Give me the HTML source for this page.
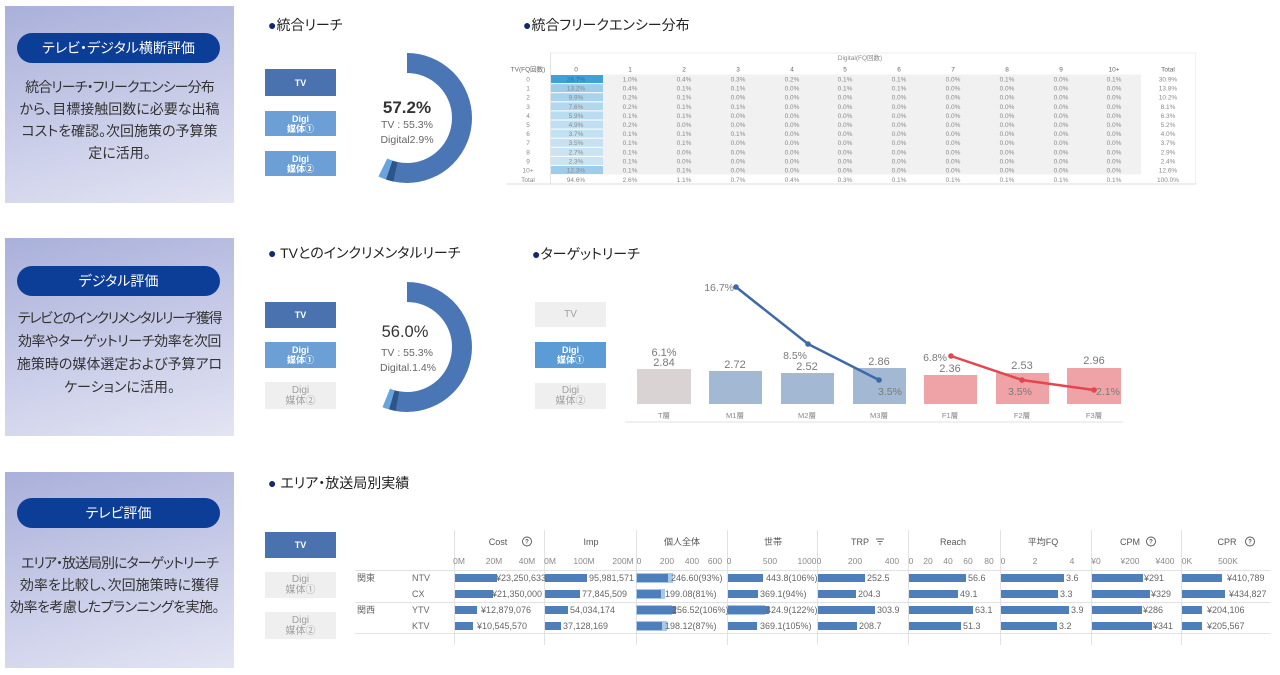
<!DOCTYPE html>
<html><head><meta charset="utf-8">
<style>
*{margin:0;padding:0;box-sizing:border-box}
body{width:1280px;height:675px;background:#fff;position:relative;overflow:hidden;font-family:"Liberation Sans","Noto Sans CJK JP",sans-serif;}
.panel{position:absolute;left:5px;width:229px;background:linear-gradient(165deg,#a9b0da 0%,#c4c8e6 45%,#e3e5f3 100%);}
.pill{position:absolute;left:12px;width:203px;height:30px;border-radius:15px;background:#0c3e98;color:#fff;font-size:14px;line-height:30px;text-align:center;font-feature-settings:"palt";white-space:nowrap;}
.ptext{position:absolute;left:0;width:229px;text-align:center;color:#333;font-size:14px;font-feature-settings:"palt";white-space:nowrap;}
.ptext span{display:block;position:relative;}
.title{position:absolute;font-size:14px;line-height:16px;color:#222;white-space:nowrap;font-feature-settings:"palt";}
.title b{color:#14286e;font-weight:normal;}
.btn{position:absolute;width:71px;color:#fff;font-weight:bold;font-size:9px;text-align:center;display:flex;align-items:center;justify-content:center;line-height:10px;font-feature-settings:"palt";}
.on1{background:#4a72ae;}
.on2{background:#6c9fd6;}
.off{background:#efefef;color:#a0a0a0;font-weight:normal;font-size:10px;line-height:11px;}
svg{position:absolute;left:0;top:0;}
</style></head><body>

<div class="panel" style="top:6px;height:197px;">
  <div class="pill" style="top:27px;">テレビ・デジタル横断評価</div>
  <div class="ptext" style="top:70px;line-height:22px;"><span style="letter-spacing:-0.9px">統合リーチ・フリークエンシー分布</span><span>から、目標接触回数に必要な出稿</span><span>コストを確認。次回施策の予算策</span><span>定に活用。</span></div>
</div>
<div class="panel" style="top:238px;height:198px;">
  <div class="pill" style="top:28px;">デジタル評価</div>
  <div class="ptext" style="top:69px;line-height:23px;"><span style="letter-spacing:-1.4px">テレビとのインクリメンタルリーチ獲得</span><span style="letter-spacing:-0.4px">効率やターゲットリーチ効率を次回</span><span>施策時の媒体選定および予算アロ</span><span>ケーションに活用。</span></div>
</div>
<div class="panel" style="top:472px;height:196px;">
  <div class="pill" style="top:26px;">テレビ評価</div>
  <div class="ptext" style="top:80px;line-height:22px;"><span style="letter-spacing:-1px">エリア・放送局別にターゲットリーチ</span><span>効率を比較し、次回施策時に獲得</span><span style="letter-spacing:-0.5px;left:-5px;">効率を考慮したプランニングを実施。</span></div>
</div>

<div class="title" style="left:268px;top:17px;"><b>●</b>統合リーチ</div>
<div class="title" style="left:523px;top:17px;"><b>●</b>統合フリークエンシー分布</div>
<div class="title" style="left:268px;top:245px;"><b>●</b> TVとのインクリメンタルリーチ</div>
<div class="title" style="left:532px;top:246px;"><b>●</b>ターゲットリーチ</div>
<div class="title" style="left:268px;top:475px;"><b>●</b> エリア・放送局別実績</div>

<div class="btn on1" style="left:265px;top:69px;height:27px;">TV</div>
<div class="btn on2" style="left:265px;top:111px;height:25px;">Digi<br>媒体①</div>
<div class="btn on2" style="left:265px;top:151px;height:25px;">Digi<br>媒体②</div>

<div class="btn on1" style="left:265px;top:302px;height:26px;">TV</div>
<div class="btn on2" style="left:265px;top:342px;height:26px;">Digi<br>媒体①</div>
<div class="btn off" style="left:265px;top:382px;height:27px;">Digi<br>媒体②</div>

<div class="btn off" style="left:535px;top:302px;height:25px;">TV</div>
<div class="btn on2" style="left:535px;top:342px;height:26px;background:#5b9bd6;">Digi<br>媒体①</div>
<div class="btn off" style="left:535px;top:383px;height:26px;">Digi<br>媒体②</div>

<div class="btn on1" style="left:265px;top:532px;height:26px;">TV</div>
<div class="btn off" style="left:265px;top:572px;height:26px;">Digi<br>媒体①</div>
<div class="btn off" style="left:265px;top:612px;height:27px;">Digi<br>媒体②</div>

<svg width="1280" height="675" viewBox="0 0 1280 675" xmlns="http://www.w3.org/2000/svg" font-family="Liberation Sans, Noto Sans CJK JP, sans-serif">
  <!-- Donut 1 -->
  <circle cx="407" cy="118" r="55" fill="none" stroke="#4a76b5" stroke-width="20" stroke-dasharray="184.3 400" transform="rotate(-90 407 118)"/>
  <circle cx="407" cy="118" r="55" fill="none" stroke="#2c5689" stroke-width="20" stroke-dasharray="6.8 400" transform="rotate(102 407 118)"/>
  <circle cx="407" cy="118" r="55" fill="none" stroke="#6aa4dc" stroke-width="20" stroke-dasharray="6.8 400" transform="rotate(109 407 118)"/>
  <text x="407" y="113" text-anchor="middle" font-size="17" font-weight="bold" fill="#333">57.2%</text>
  <text x="407" y="128" text-anchor="middle" font-size="10.5" fill="#666">TV : 55.3%</text>
  <text x="407" y="143" text-anchor="middle" font-size="10.5" fill="#666">Digital2.9%</text>

  <!-- Donut 2 -->
  <circle cx="407" cy="347" r="55" fill="none" stroke="#4a76b5" stroke-width="20" stroke-dasharray="182.4 400" transform="rotate(-90 407 347)"/>
  <circle cx="407" cy="347" r="55" fill="none" stroke="#2c5689" stroke-width="20" stroke-dasharray="6 400" transform="rotate(100 407 347)"/>
  <circle cx="407" cy="347" r="55" fill="none" stroke="#6aa4dc" stroke-width="20" stroke-dasharray="6 400" transform="rotate(106 407 347)"/>
  <text x="405" y="337" text-anchor="middle" font-size="16.5" fill="#333">56.0%</text>
  <text x="407" y="356" text-anchor="middle" font-size="10.5" fill="#666">TV : 55.3%</text>
  <text x="408" y="371" text-anchor="middle" font-size="10.5" fill="#666">Digital.1.4%</text>

  <!-- Frequency table -->
  <line x1="550" y1="53" x2="1196" y2="53" stroke="#eee" stroke-width="1"/>
  <line x1="550.5" y1="53" x2="550.5" y2="184" stroke="#e4e4e4" stroke-width="1"/>
  <line x1="1195.5" y1="53" x2="1195.5" y2="184" stroke="#eee" stroke-width="1"/>
  <line x1="507" y1="184" x2="1196" y2="184" stroke="#ddd" stroke-width="1"/>
  <rect x="603" y="74.5" width="538" height="100" fill="#f1f1f1"/>
  <g>
    <rect x="551" y="75" width="52" height="8.1" fill="#3fa1d8"/>
    <rect x="551" y="84.1" width="52" height="8.1" fill="#9ccdea"/>
    <rect x="551" y="93.2" width="52" height="8.1" fill="#a9d3ec"/>
    <rect x="551" y="102.3" width="52" height="8.1" fill="#b3d8ee"/>
    <rect x="551" y="111.4" width="52" height="8.1" fill="#badcf0"/>
    <rect x="551" y="120.5" width="52" height="8.1" fill="#bfdef1"/>
    <rect x="551" y="129.6" width="52" height="8.1" fill="#c4e1f2"/>
    <rect x="551" y="138.7" width="52" height="8.1" fill="#c5e1f2"/>
    <rect x="551" y="147.8" width="52" height="8.1" fill="#c9e3f3"/>
    <rect x="551" y="156.9" width="52" height="8.1" fill="#cbe4f3"/>
    <rect x="551" y="166" width="52" height="8.1" fill="#9dcdea"/>
  </g>
  <g font-size="6.5" fill="#8a8a8a" text-anchor="middle">
    <text x="860" y="60">Digital(FQ回数)</text>
    <text y="71.5" fill="#666"><tspan x="528">TV(FQ回数)</tspan><tspan x="576">0</tspan><tspan x="630">1</tspan><tspan x="684">2</tspan><tspan x="738">3</tspan><tspan x="792">4</tspan><tspan x="845">5</tspan><tspan x="899">6</tspan><tspan x="953">7</tspan><tspan x="1007">8</tspan><tspan x="1061">9</tspan><tspan x="1114">10+</tspan><tspan x="1168">Total</tspan></text>
    <text y="81.5"><tspan x="528">0</tspan><tspan x="576" fill="#2a70a8">28.7%</tspan><tspan x="630">1.0%</tspan><tspan x="684">0.4%</tspan><tspan x="738">0.3%</tspan><tspan x="792">0.2%</tspan><tspan x="845">0.1%</tspan><tspan x="899">0.1%</tspan><tspan x="953">0.0%</tspan><tspan x="1007">0.1%</tspan><tspan x="1061">0.0%</tspan><tspan x="1114">0.1%</tspan><tspan x="1168">30.9%</tspan></text>
    <text y="90.6"><tspan x="528">1</tspan><tspan x="576">13.2%</tspan><tspan x="630">0.4%</tspan><tspan x="684">0.1%</tspan><tspan x="738">0.1%</tspan><tspan x="792">0.0%</tspan><tspan x="845">0.1%</tspan><tspan x="899">0.1%</tspan><tspan x="953">0.0%</tspan><tspan x="1007">0.0%</tspan><tspan x="1061">0.0%</tspan><tspan x="1114">0.0%</tspan><tspan x="1168">13.8%</tspan></text>
    <text y="99.7"><tspan x="528">2</tspan><tspan x="576">9.9%</tspan><tspan x="630">0.2%</tspan><tspan x="684">0.1%</tspan><tspan x="738">0.0%</tspan><tspan x="792">0.0%</tspan><tspan x="845">0.0%</tspan><tspan x="899">0.0%</tspan><tspan x="953">0.0%</tspan><tspan x="1007">0.0%</tspan><tspan x="1061">0.0%</tspan><tspan x="1114">0.0%</tspan><tspan x="1168">10.2%</tspan></text>
    <text y="108.8"><tspan x="528">3</tspan><tspan x="576">7.6%</tspan><tspan x="630">0.2%</tspan><tspan x="684">0.1%</tspan><tspan x="738">0.1%</tspan><tspan x="792">0.0%</tspan><tspan x="845">0.0%</tspan><tspan x="899">0.0%</tspan><tspan x="953">0.0%</tspan><tspan x="1007">0.0%</tspan><tspan x="1061">0.0%</tspan><tspan x="1114">0.0%</tspan><tspan x="1168">8.1%</tspan></text>
    <text y="117.9"><tspan x="528">4</tspan><tspan x="576">5.9%</tspan><tspan x="630">0.1%</tspan><tspan x="684">0.1%</tspan><tspan x="738">0.0%</tspan><tspan x="792">0.0%</tspan><tspan x="845">0.0%</tspan><tspan x="899">0.0%</tspan><tspan x="953">0.0%</tspan><tspan x="1007">0.0%</tspan><tspan x="1061">0.0%</tspan><tspan x="1114">0.0%</tspan><tspan x="1168">6.3%</tspan></text>
    <text y="127"><tspan x="528">5</tspan><tspan x="576">4.9%</tspan><tspan x="630">0.2%</tspan><tspan x="684">0.0%</tspan><tspan x="738">0.0%</tspan><tspan x="792">0.0%</tspan><tspan x="845">0.0%</tspan><tspan x="899">0.0%</tspan><tspan x="953">0.0%</tspan><tspan x="1007">0.0%</tspan><tspan x="1061">0.0%</tspan><tspan x="1114">0.0%</tspan><tspan x="1168">5.2%</tspan></text>
    <text y="136.1"><tspan x="528">6</tspan><tspan x="576">3.7%</tspan><tspan x="630">0.1%</tspan><tspan x="684">0.1%</tspan><tspan x="738">0.1%</tspan><tspan x="792">0.0%</tspan><tspan x="845">0.0%</tspan><tspan x="899">0.0%</tspan><tspan x="953">0.0%</tspan><tspan x="1007">0.0%</tspan><tspan x="1061">0.0%</tspan><tspan x="1114">0.0%</tspan><tspan x="1168">4.0%</tspan></text>
    <text y="145.2"><tspan x="528">7</tspan><tspan x="576">3.5%</tspan><tspan x="630">0.1%</tspan><tspan x="684">0.1%</tspan><tspan x="738">0.0%</tspan><tspan x="792">0.0%</tspan><tspan x="845">0.0%</tspan><tspan x="899">0.0%</tspan><tspan x="953">0.0%</tspan><tspan x="1007">0.0%</tspan><tspan x="1061">0.0%</tspan><tspan x="1114">0.0%</tspan><tspan x="1168">3.7%</tspan></text>
    <text y="154.3"><tspan x="528">8</tspan><tspan x="576">2.7%</tspan><tspan x="630">0.1%</tspan><tspan x="684">0.0%</tspan><tspan x="738">0.0%</tspan><tspan x="792">0.0%</tspan><tspan x="845">0.0%</tspan><tspan x="899">0.0%</tspan><tspan x="953">0.0%</tspan><tspan x="1007">0.0%</tspan><tspan x="1061">0.0%</tspan><tspan x="1114">0.0%</tspan><tspan x="1168">2.9%</tspan></text>
    <text y="163.4"><tspan x="528">9</tspan><tspan x="576">2.3%</tspan><tspan x="630">0.1%</tspan><tspan x="684">0.0%</tspan><tspan x="738">0.0%</tspan><tspan x="792">0.0%</tspan><tspan x="845">0.0%</tspan><tspan x="899">0.0%</tspan><tspan x="953">0.0%</tspan><tspan x="1007">0.0%</tspan><tspan x="1061">0.0%</tspan><tspan x="1114">0.0%</tspan><tspan x="1168">2.4%</tspan></text>
    <text y="172.5"><tspan x="528">10+</tspan><tspan x="576">12.3%</tspan><tspan x="630">0.1%</tspan><tspan x="684">0.1%</tspan><tspan x="738">0.0%</tspan><tspan x="792">0.0%</tspan><tspan x="845">0.0%</tspan><tspan x="899">0.0%</tspan><tspan x="953">0.0%</tspan><tspan x="1007">0.0%</tspan><tspan x="1061">0.0%</tspan><tspan x="1114">0.0%</tspan><tspan x="1168">12.6%</tspan></text>
    <text y="182"><tspan x="528">Total</tspan><tspan x="576">94.6%</tspan><tspan x="630">2.6%</tspan><tspan x="684">1.1%</tspan><tspan x="738">0.7%</tspan><tspan x="792">0.4%</tspan><tspan x="845">0.3%</tspan><tspan x="899">0.1%</tspan><tspan x="953">0.1%</tspan><tspan x="1007">0.1%</tspan><tspan x="1061">0.1%</tspan><tspan x="1114">0.1%</tspan><tspan x="1168">100.0%</tspan></text>
  </g>

  <!-- Target reach chart -->
  <line x1="625" y1="422" x2="1123" y2="422" stroke="#e2e2e2" stroke-width="1"/>
  <rect x="637" y="369" width="54" height="35" fill="#d9d3d3"/>
  <rect x="709" y="371" width="53" height="33" fill="#a3b8d2"/>
  <rect x="781" y="373" width="53" height="31" fill="#a3b8d2"/>
  <rect x="853" y="368" width="53" height="36" fill="#a3b8d2"/>
  <rect x="924" y="375" width="53" height="29" fill="#efa3a6"/>
  <rect x="996" y="373" width="53" height="31" fill="#efa3a6"/>
  <rect x="1067" y="368" width="54" height="36" fill="#efa3a6"/>
  <g font-size="11" fill="#7a7a7a" text-anchor="middle">
    <text x="664" y="356">6.1%</text>
    <text x="664" y="366">2.84</text>
    <text x="735" y="368">2.72</text>
    <text x="807" y="370">2.52</text>
    <text x="879" y="365">2.86</text>
    <text x="950" y="372">2.36</text>
    <text x="1022" y="369">2.53</text>
    <text x="1094" y="364">2.96</text>
  </g>
  <polyline points="736,287 808,344 879,380" fill="none" stroke="#3d69a8" stroke-width="2.5"/>
  <circle cx="736" cy="287" r="2.8" fill="#3d69a8"/>
  <circle cx="808" cy="344" r="2.8" fill="#3d69a8"/>
  <circle cx="879" cy="380" r="2.8" fill="#3d69a8"/>
  <polyline points="951,356 1022,380 1094,390" fill="none" stroke="#e2474f" stroke-width="2.5"/>
  <circle cx="951" cy="356" r="2.8" fill="#e2474f"/>
  <circle cx="1022" cy="380" r="2.8" fill="#e2474f"/>
  <circle cx="1094" cy="390" r="2.8" fill="#e2474f"/>
  <g font-size="10.5" fill="#7a7a7a">
    <text x="734" y="291" text-anchor="end">16.7%</text>
    <text x="807" y="359" text-anchor="end">8.5%</text>
    <text x="878" y="395">3.5%</text>
    <text x="947" y="361" text-anchor="end">6.8%</text>
    <text x="1008" y="395">3.5%</text>
    <text x="1096" y="395">2.1%</text>
  </g>
  <g font-size="7.5" fill="#888" text-anchor="middle">
    <text x="664" y="418">T層</text>
    <text x="735" y="418">M1層</text>
    <text x="807" y="418">M2層</text>
    <text x="879" y="418">M3層</text>
    <text x="950" y="418">F1層</text>
    <text x="1022" y="418">F2層</text>
    <text x="1094" y="418">F3層</text>
  </g>

  <!-- Bottom table -->
  <g stroke="#e2e2e2" stroke-width="1">
    <line x1="454.5" y1="530" x2="454.5" y2="645"/>
    <line x1="544.5" y1="530" x2="544.5" y2="645"/>
    <line x1="636.5" y1="530" x2="636.5" y2="645"/>
    <line x1="727.5" y1="530" x2="727.5" y2="645"/>
    <line x1="817.5" y1="530" x2="817.5" y2="645"/>
    <line x1="908.5" y1="530" x2="908.5" y2="645"/>
    <line x1="1000.5" y1="530" x2="1000.5" y2="645"/>
    <line x1="1091.5" y1="530" x2="1091.5" y2="645"/>
    <line x1="1181.5" y1="530" x2="1181.5" y2="645"/>
    <line x1="355" y1="570.5" x2="1270" y2="570.5"/>
    <line x1="355" y1="602.5" x2="1270" y2="602.5"/>
    <line x1="355" y1="633.5" x2="1270" y2="633.5"/>
  </g>
  <g font-size="9" fill="#555" text-anchor="middle">
    <text x="498" y="545">Cost</text>
    <text x="591" y="545">Imp</text>
    <text x="682" y="545">個人全体</text>
    <text x="773" y="545">世帯</text>
    <text x="860" y="545">TRP</text>
    <text x="953" y="545">Reach</text>
    <text x="1043" y="545">平均FQ</text>
    <text x="1130" y="545">CPM</text>
    <text x="1227" y="545">CPR</text>
  </g>
  <g fill="none" stroke="#555" stroke-width="0.9">
    <circle cx="527" cy="541.5" r="4.5"/>
    <circle cx="1151" cy="541.5" r="4.5"/>
    <circle cx="1250" cy="541.5" r="4.5"/>
    <line x1="876" y1="539" x2="884" y2="539"/>
    <line x1="877.5" y1="541.5" x2="882.5" y2="541.5"/>
    <line x1="879" y1="544" x2="881" y2="544"/>
  </g>
  <g font-size="6" fill="#555" text-anchor="middle" font-weight="bold">
    <text x="527" y="543.5">?</text>
    <text x="1151" y="543.5">?</text>
    <text x="1250" y="543.5">?</text>
  </g>
  <g font-size="8.5" fill="#8a8a8a" text-anchor="middle">
    <text x="459" y="564">0M</text><text x="494" y="564">20M</text><text x="527" y="564">40M</text>
    <text x="550" y="564">0M</text><text x="584" y="564">100M</text><text x="623" y="564">200M</text>
    <text x="639" y="564">0</text><text x="667" y="564">200</text><text x="692" y="564">400</text><text x="715" y="564">600</text>
    <text x="729" y="564">0</text><text x="770" y="564">500</text><text x="807" y="564">1000</text>
    <text x="819" y="564">0</text><text x="855" y="564">200</text><text x="892" y="564">400</text>
    <text x="911" y="564">0</text><text x="928" y="564">20</text><text x="948" y="564">40</text><text x="968" y="564">60</text><text x="989" y="564">80</text>
    <text x="1003" y="564">0</text><text x="1035" y="564">2</text><text x="1072" y="564">4</text>
    <text x="1096" y="564">¥0</text><text x="1130" y="564">¥200</text><text x="1165" y="564">¥400</text>
    <text x="1187" y="564">0K</text><text x="1228" y="564">500K</text>
  </g>
  <g font-size="9" fill="#666">
    <text x="357" y="581">関東</text>
    <text x="357" y="613">関西</text>
    <text x="412" y="581">NTV</text>
    <text x="412" y="597">CX</text>
    <text x="412" y="613">YTV</text>
    <text x="412" y="629">KTV</text>
  </g>
  <g fill="#a8c8e8">
    <rect x="636" y="573" width="37" height="10"/>
    <rect x="636" y="589" width="29" height="10"/>
    <rect x="636" y="605" width="36" height="10"/>
    <rect x="636" y="621" width="31" height="10"/>
    <rect x="727" y="605" width="38" height="10"/>
  </g>
  <g fill="#4e7fbb">
    <rect x="455" y="574" width="42" height="8"/>
    <rect x="455" y="590" width="38" height="8"/>
    <rect x="455" y="606" width="22" height="8"/>
    <rect x="455" y="622" width="18" height="8"/>
    <rect x="545" y="574" width="42" height="8"/>
    <rect x="545" y="590" width="35" height="8"/>
    <rect x="545" y="606" width="23" height="8"/>
    <rect x="545" y="622" width="16" height="8"/>
    <rect x="637" y="574" width="31" height="8"/>
    <rect x="637" y="590" width="24" height="8"/>
    <rect x="637" y="606" width="39" height="8"/>
    <rect x="637" y="622" width="25" height="8"/>
    <rect x="728" y="574" width="35" height="8"/>
    <rect x="728" y="590" width="30" height="8"/>
    <rect x="728" y="606" width="41" height="8"/>
    <rect x="728" y="622" width="29" height="8"/>
    <rect x="818" y="574" width="47" height="8"/>
    <rect x="818" y="590" width="38" height="8"/>
    <rect x="818" y="606" width="57" height="8"/>
    <rect x="818" y="622" width="39" height="8"/>
    <rect x="909" y="574" width="57" height="8"/>
    <rect x="909" y="590" width="49" height="8"/>
    <rect x="909" y="606" width="64" height="8"/>
    <rect x="909" y="622" width="52" height="8"/>
    <rect x="1001" y="574" width="63" height="8"/>
    <rect x="1001" y="590" width="57" height="8"/>
    <rect x="1001" y="606" width="68" height="8"/>
    <rect x="1001" y="622" width="56" height="8"/>
    <rect x="1092" y="574" width="51" height="8"/>
    <rect x="1092" y="590" width="58" height="8"/>
    <rect x="1092" y="606" width="50" height="8"/>
    <rect x="1092" y="622" width="60" height="8"/>
    <rect x="1182" y="574" width="40" height="8"/>
    <rect x="1182" y="590" width="43" height="8"/>
    <rect x="1182" y="606" width="20" height="8"/>
    <rect x="1182" y="622" width="20" height="8"/>
  </g>
  <g font-size="9" fill="#666">
    <text x="496" y="581">¥23,250,633</text>
    <text x="492" y="597">¥21,350,000</text>
    <text x="481" y="613">¥12,879,076</text>
    <text x="477" y="629">¥10,545,570</text>
    <text x="589" y="581">95,981,571</text>
    <text x="582" y="597">77,845,509</text>
    <text x="570" y="613">54,034,174</text>
    <text x="563" y="629">37,128,169</text>
    <text x="671" y="581">246.60(93%)</text>
    <text x="665" y="597">199.08(81%)</text>
    <text x="672" y="613">256.52(106%)</text>
    <text x="665" y="629">198.12(87%)</text>
    <text x="766" y="581">443.8(106%)</text>
    <text x="760" y="597">369.1(94%)</text>
    <text x="766" y="613">424.9(122%)</text>
    <text x="760" y="629">369.1(105%)</text>
    <text x="867" y="581">252.5</text>
    <text x="858" y="597">204.3</text>
    <text x="877" y="613">303.9</text>
    <text x="859" y="629">208.7</text>
    <text x="968" y="581">56.6</text>
    <text x="960" y="597">49.1</text>
    <text x="975" y="613">63.1</text>
    <text x="963" y="629">51.3</text>
    <text x="1066" y="581">3.6</text>
    <text x="1060" y="597">3.3</text>
    <text x="1071" y="613">3.9</text>
    <text x="1059" y="629">3.2</text>
    <text x="1144" y="581">¥291</text>
    <text x="1151" y="597">¥329</text>
    <text x="1143" y="613">¥286</text>
    <text x="1153" y="629">¥341</text>
    <text x="1227" y="581">¥410,789</text>
    <text x="1229" y="597">¥434,827</text>
    <text x="1207" y="613">¥204,106</text>
    <text x="1207" y="629">¥205,567</text>
  </g>
</svg>
</body></html>
